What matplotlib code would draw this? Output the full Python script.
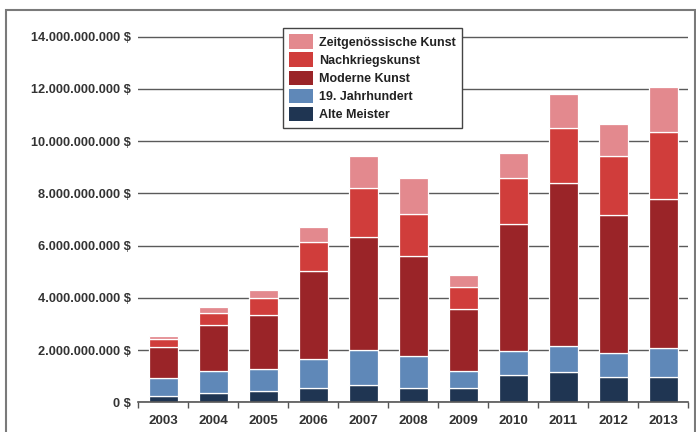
import numpy as np
import matplotlib.pyplot as plt
from matplotlib.patches import Rectangle
from matplotlib.ticker import FuncFormatter, FixedLocator

plt.rcParams['font.family'] = ['Liberation Sans', 'DejaVu Sans']
plt.rcParams['font.weight'] = 'bold'

# auction sales per segment, billions of US dollars
years = ['2003', '2004', '2005', '2006', '2007', '2008', '2009', '2010', '2011', '2012', '2013']
alte_meister = [0.25, 0.35, 0.45, 0.54, 0.66, 0.56, 0.56, 1.05, 1.15, 0.98, 0.98]
jahrhundert19 = [0.67, 0.85, 0.82, 1.11, 1.35, 1.23, 0.64, 0.93, 1.01, 0.90, 1.08]
moderne = [1.19, 1.74, 2.09, 3.36, 4.32, 3.80, 2.38, 4.86, 6.22, 5.27, 5.73]
nachkrieg = [0.31, 0.48, 0.63, 1.12, 1.87, 1.60, 0.82, 1.73, 2.11, 2.28, 2.54]
zeitgenoessisch = [0.13, 0.23, 0.31, 0.59, 1.23, 1.39, 0.49, 0.99, 1.31, 1.21, 1.72]

series = [
    ('Alte Meister', alte_meister, '#1f3552'),
    ('19. Jahrhundert', jahrhundert19, '#5f88b8'),
    ('Moderne Kunst', moderne, '#9a2428'),
    ('Nachkriegskunst', nachkrieg, '#d03d3b'),
    ('Zeitgenössische Kunst', zeitgenoessisch, '#e3898e'),
]

fig = plt.figure(figsize=(6.96, 4.32), dpi=100)
ax = fig.add_axes([138/696, 1 - 402.3/432, 550/696, (402.3 - 36)/432])

x = np.arange(len(years))
bottom = np.zeros(len(years))
handles = {}
for name, vals, col in series:
    h = ax.bar(x, vals, 0.58, bottom=bottom, color=col, edgecolor='white',
               linewidth=0.9, zorder=3, label=name)
    handles[name] = h
    bottom += np.array(vals)

ax.set_xlim(-0.5, 10.5)
ax.set_ylim(0, 14.02)
ax.set_yticks(np.arange(0, 15, 2))

def fmt_dollar(v, pos):
    n = int(round(v * 1e9))
    return '{:,}'.format(n).replace(',', '.') + ' $'

ax.yaxis.set_major_formatter(FuncFormatter(fmt_dollar))
ax.grid(axis='y', color='#5a5a5a', linewidth=1.0, zorder=0)
ax.tick_params(axis='y', length=0, pad=5, labelsize=9.2, labelcolor='#333333')

ax.set_xticks(x)
ax.set_xticklabels(years)
ax.xaxis.set_minor_locator(FixedLocator(np.arange(-0.5, 11, 1)))
ax.tick_params(axis='x', which='major', length=0, pad=9, labelsize=9.6, labelcolor='#333333')
ax.tick_params(axis='x', which='minor', length=4, width=1, color='#555555', direction='out')

for s in ['top', 'right', 'left']:
    ax.spines[s].set_visible(False)
ax.spines['bottom'].set_color('#555555')
ax.spines['bottom'].set_linewidth(1.2)
ax.spines['bottom'].set_zorder(4)

# legend, top entry first
order = ['Zeitgenössische Kunst', 'Nachkriegskunst', 'Moderne Kunst', '19. Jahrhundert', 'Alte Meister']
leg = ax.legend([handles[n] for n in order], order, loc='upper left',
                bbox_to_anchor=(283/696, 1 - 28/432), bbox_transform=fig.transFigure,
                fancybox=False, framealpha=1, edgecolor='#444444', fontsize=9,
                handlelength=1.9, handleheight=1.4, handletextpad=0.45,
                labelspacing=0.3, borderpad=0.5, borderaxespad=0)
leg.get_frame().set_linewidth(1.0)
for t in leg.get_texts():
    t.set_color('#222222')
for p in leg.get_patches():
    p.set_edgecolor('none')
leg.set_zorder(5)

# frame around the whole graphic
fig.patches.append(Rectangle((6/696, -0.05), 689/696, 1.05 - 10/432, transform=fig.transFigure,
                             fill=False, edgecolor='#7a7a7a', linewidth=1.5, clip_on=False))

fig.savefig('out.png', dpi=100)
